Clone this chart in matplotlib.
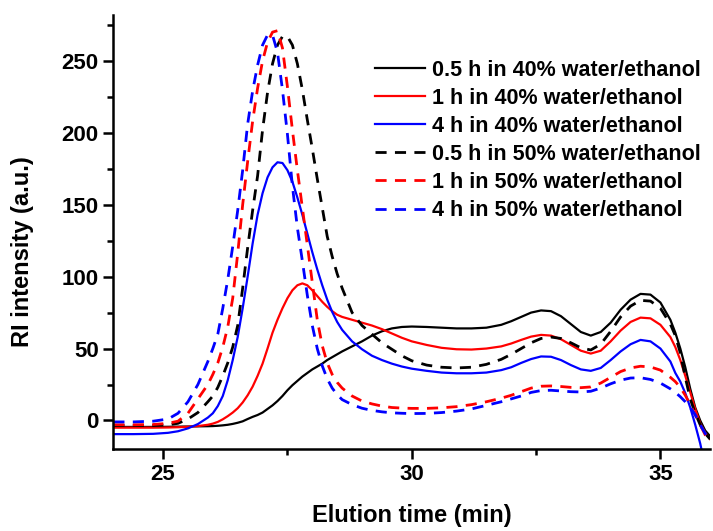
import matplotlib
matplotlib.use("Agg")
import matplotlib.pyplot as plt
from matplotlib.ticker import MultipleLocator

plt.rcParams['font.family'] = ['Liberation Sans', 'DejaVu Sans']
plt.rcParams['font.weight'] = 'bold'

# elution time grid (min)
time = [24.0, 24.4, 24.8, 25.1, 25.3, 25.5, 25.7, 25.9, 26.0, 26.1,
        26.2, 26.3, 26.4, 26.5, 26.6, 26.7, 26.8, 26.9, 27.0, 27.1,
        27.2, 27.3, 27.4, 27.5, 27.6, 27.7, 27.8, 27.9, 28.0, 28.1,
        28.2, 28.3, 28.4, 28.5, 28.6, 28.8, 29.0, 29.2, 29.4, 29.6,
        29.8, 30.0, 30.3, 30.6, 30.9, 31.2, 31.5, 31.8, 32.0, 32.2,
        32.4, 32.6, 32.8, 33.0, 33.2, 33.4, 33.6, 33.8, 34.0, 34.2,
        34.4, 34.6, 34.8, 35.0, 35.2, 35.3, 35.4, 35.5, 35.6, 35.7,
        35.8, 35.9, 36.0]

# 40% water/ethanol
h05_40 = [-4.5, -4.5, -4.5, -4.4, -4.3, -4.2, -4.1, -4.0, -3.9, -3.7,
          -3.4, -3.0, -2.4, -1.6, -0.6, 1.0, 2.5, 3.8, 5.5, 8,
          10.5, 13.5, 17, 21, 24.5, 27.5, 30.5, 33, 35.5, 37.5,
          39.5, 42, 44, 46, 48, 51.5, 55, 59, 62, 64,
          65, 65.3, 65, 64.5, 64, 64, 64.5, 66.5, 69, 72,
          75, 76.5, 76, 72.5, 67, 61.5, 59, 61.5, 68, 77,
          84, 88, 87.5, 82, 70, 61, 50, 37, 22, 9,
          0, -7, -11]
h1_40 = [-5, -5, -5, -4.9, -4.7, -4.4, -3.9, -3.0, -2.2, -1.0,
         0.8, 3, 5.5, 8.5, 12.5, 17.5, 23.5, 31, 39.5, 50,
         61, 70, 78, 85, 90.5, 94, 95.3, 94, 90.5, 86.5,
         82.5, 79, 76, 73.5, 72, 70, 68, 66, 63.5, 60.5,
         57.5, 55, 52.5, 50.5, 49.5, 49.3, 50, 51.5, 53.5, 56,
         58.3, 59.5, 59, 56.5, 52.5, 48.5, 46.5, 48.5, 55, 62.5,
         68.5, 71.5, 71, 66.5, 58, 51, 42, 31, 19.5, 8,
         -2, -8.5, -13]
h4_40 = [-9.5, -9.5, -9.3, -8.6, -7.5, -5.5, -2.5, 2, 5, 10,
         17, 28, 42, 58, 78, 100, 123, 143, 158, 169,
         176, 179.5, 179, 174, 166, 155, 143, 130, 117, 105,
         94, 84, 75.5, 68.5, 63, 55, 49.5, 45, 42, 39.5,
         37.5, 36, 34.5, 33.3, 32.8, 32.8, 33.3, 35, 37, 40,
         42.7, 44.5, 44.3, 42, 38.5, 35.5, 34.5, 36.5, 42, 48,
         53, 56, 55, 50, 41, 33, 27, 19, 9, -3,
         -16, -32, -48]

# 50% water/ethanol
h05_50 = [-3.5, -3.5, -3.5, -3, -2, 1, 5.5, 13, 17, 23,
          31, 40, 51, 66, 92, 120, 146, 170, 202, 228,
          248, 261, 267, 267, 261, 248, 230, 209, 189, 168,
          148, 128, 114, 102, 92, 75, 66, 60, 54, 49.5,
          45, 41.5, 38.5, 37, 36.5, 37, 39, 42.5, 46, 50,
          54, 57, 58, 57, 54, 50.5, 49, 53, 62, 72,
          79.5, 83.5, 83, 78, 67, 59, 47, 30, 15, 5,
          -3, -9, -13]
h1_50 = [-3, -3, -2.8, -2, -0.5, 5, 15, 25, 32, 40,
         51, 65, 85, 116, 150, 180, 208, 231, 250, 263,
         270, 271, 259, 232, 202, 174, 148, 122, 96, 70,
         52, 40, 32, 26.5, 22.5, 17, 13.5, 11.5, 10, 9,
         8.6, 8.4, 8.4, 8.8, 9.6, 11, 13, 15.5, 17.5, 20,
         22.5, 23.8, 24, 23.6, 23, 22.8, 23.3, 26, 30, 34,
         36.5, 37.7, 37.2, 35, 30, 27, 23, 17.5, 11, 4,
         -3, -10, -15]
h4_50 = [-1, -1, -0.5, 1, 5, 13, 25, 41, 50, 60,
         78, 98, 121, 146, 174, 206, 229, 247, 261, 268,
         268, 256, 230, 199, 163, 134, 111, 87, 66, 50,
         38, 29, 22.5, 18, 14.5, 11, 8.5, 7, 6, 5.3,
         5, 4.8, 4.9, 5.5, 6.5, 8, 10.5, 13, 15, 17,
         19.5, 20.8, 21, 20.5, 20, 19.8, 20.3, 22.5, 25.5, 28,
         29.5, 29.7, 28.5, 26, 22, 19.5, 16.5, 13, 9, 4,
         -3, -9, -14]

labels = ['0.5 h in 40% water/ethanol', '1 h in 40% water/ethanol',
          '4 h in 40% water/ethanol', '0.5 h in 50% water/ethanol',
          '1 h in 50% water/ethanol', '4 h in 50% water/ethanol']
series = [h05_40, h1_40, h4_40, h05_50, h1_50, h4_50]
colors = ['black', 'red', 'blue', 'black', 'red', 'blue']

fig = plt.figure(figsize=(7.13, 5.31), dpi=100)
ax = fig.add_axes([0.159, 0.154, 0.837, 0.818])

for i, (y, lab, c) in enumerate(zip(series, labels, colors)):
    if i < 3:
        ax.plot(time, y, color=c, lw=1.6, label=lab)
    else:
        ax.plot(time, y, color=c, lw=2.0, ls=(0, (4, 3)), label=lab)

ax.set_xlim(24, 36)
ax.set_ylim(-20, 282)
ax.xaxis.set_major_locator(MultipleLocator(5))
ax.xaxis.set_minor_locator(MultipleLocator(2.5))
ax.yaxis.set_major_locator(MultipleLocator(50))
ax.yaxis.set_minor_locator(MultipleLocator(25))

for s in ['top', 'right']:
    ax.spines[s].set_visible(False)
for s in ['left', 'bottom']:
    ax.spines[s].set_linewidth(1.8)
ax.tick_params(which='major', direction='out', length=7, width=1.8, labelsize=16)
ax.tick_params(which='minor', direction='out', length=4.5, width=1.8)

ax.set_xlabel('Elution time (min)', fontsize=17, fontweight='bold', va='center')
ax.set_ylabel('RI intensity (a.u.)', fontsize=17, fontweight='bold', va='center')
ax.xaxis.set_label_coords(0.5, -0.152)
ax.yaxis.set_label_coords(-0.153, 0.456)

ax.legend(loc='upper left', bbox_to_anchor=(0.438, 0.897), frameon=False,
          borderaxespad=0, borderpad=0, fontsize=15.5, handlelength=2.35,
          handletextpad=0.3, labelspacing=0.33)

fig.savefig('out.png', dpi=100)
